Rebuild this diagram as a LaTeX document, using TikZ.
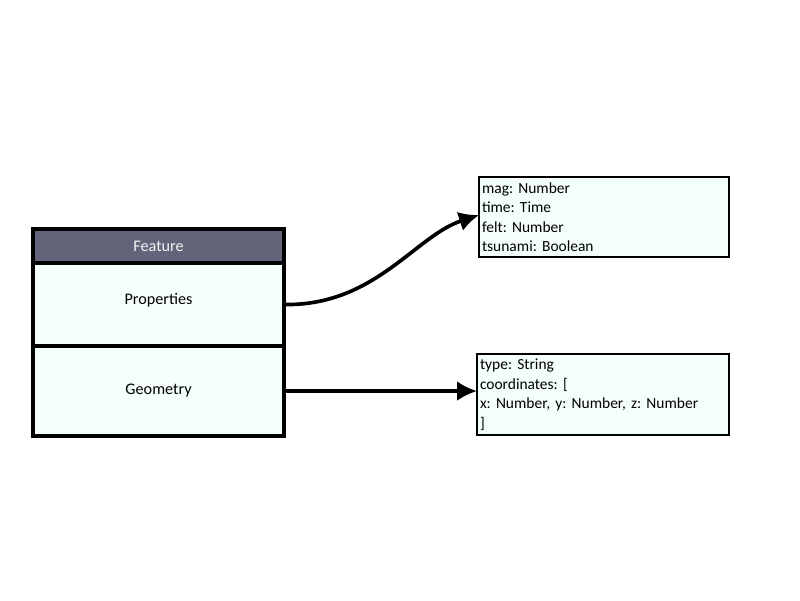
\documentclass[tikz,border=0pt]{standalone}
\usepackage{fontspec}
\setmainfont{Carlito}
\usepackage{tikz}
\usetikzlibrary{arrows.meta}
\definecolor{featgray}{RGB}{99,100,122}
\definecolor{mint}{RGB}{245,255,250}
\frenchspacing

\begin{document}
\begin{tikzpicture}[x=0.025cm,y=-0.025cm,
  part/.style={draw,line width=2.3pt,fill=mint,minimum width=6.275cm,anchor=north west,
    inner sep=0pt,outer sep=0pt,font=\fontsize{11.5}{13}\selectfont},
  attrbox/.style={draw,line width=1.4pt,fill=mint,anchor=north west,text width=6.1cm,outer sep=0pt,
    inner xsep=0.075cm,inner ysep=0pt,align=left,font=\fontsize{11}{13.9}\selectfont},
  link/.style={line width=2.6pt,-{Latex[length=0.5cm,width=0.5cm]}}]
\useasboundingbox (0,0) rectangle (800,600);
\fill[white] (0,0) rectangle (800,600);

\node[part,fill=featgray,minimum height=0.85cm,text=white!92!featgray] (feature) at (33,229) {Feature};
\node[part,minimum height=2.075cm] (props) at (feature.south west) {\raisebox{0.28cm}{Properties}};
\node[part,minimum height=2.25cm] (geom) at (props.south west) {Geometry};

\node[attrbox,minimum height=2cm] (propbox) at (479,177) {mag: Number\\time: Time\\felt: Number\\tsunami: Boolean};
\node[attrbox,minimum height=2.025cm,text width=6.15cm] (geombox) at (477,354) {type: String\\coordinates: [\\x: Number, y: Number, z: Number\\]};

\draw[link] (props.east) .. controls (375,306) and (415,236) .. ([yshift=0.05cm]propbox.west);
\draw[link] (geom.east) -- (geom.east -| geombox.west);
\end{tikzpicture}
\end{document}
